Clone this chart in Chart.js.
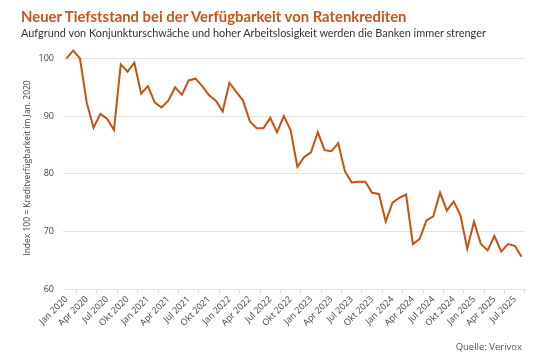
<!DOCTYPE html>
<html>
<head>
<meta charset="utf-8">
<script src="https://cdn.jsdelivr.net/npm/chart.js@4"></script>
<style>
  html, body { margin: 0; padding: 0; background: #fff; }
  #wrap { position: relative; width: 540px; height: 358px; overflow: hidden; }
  #c { position: absolute; left: 0; top: 0; }
  .t { position: absolute; white-space: nowrap; font-family: Lato, "Open Sans", sans-serif; }
  #title { left: 21px; top: 7px; font-size: 14.85px; font-weight: 700; color: #c9541c; }
  #sub { left: 21px; top: 26px; font-size: 10.9px; color: #333; }
  #src { right: 18px; top: 340px; font-size: 9.5px; color: #555; font-family: "Open Sans", sans-serif; }
</style>
</head>
<body>
<div id="wrap">
  <canvas id="c" width="540" height="358"></canvas>
  <div class="t" id="title">Neuer Tiefststand bei der Verfügbarkeit von Ratenkrediten</div>
  <div class="t" id="sub">Aufgrund von Konjunkturschwäche und hoher Arbeitslosigkeit werden die Banken immer strenger</div>
  <div class="t" id="src">Quelle: Verivox</div>
</div>
<script>
const monthNames = ["Jan","Feb","Mär","Apr","Mai","Jun","Jul","Aug","Sep","Okt","Nov","Dez"];
const years = [2020, 2021, 2022, 2023, 2024, 2025];
const categories = [];
years.forEach(y => monthNames.forEach(m => categories.push(m + " " + y)));
categories.length = 68; // Jan 2020 – Aug 2025

const index2020 = [100.0, 101.4, 100.0, 92.3, 88.0, 90.4, 89.5, 87.6, 99.0, 97.7, 99.3, 93.9];
const index2021 = [95.2, 92.4, 91.5, 92.7, 95.0, 93.7, 96.2, 96.5, 95.2, 93.6, 92.7, 90.8];
const index2022 = [95.8, 94.2, 92.7, 89.1, 87.9, 87.9, 89.7, 87.2, 90.0, 87.6, 81.2, 82.9];
const index2023 = [83.7, 87.2, 84.1, 83.9, 85.3, 80.4, 78.5, 78.6, 78.6, 76.7, 76.5, 71.7];
const index2024 = [75.0, 75.8, 76.4, 67.8, 68.7, 71.9, 72.6, 76.7, 73.6, 75.2, 72.8, 67.0];
const index2025 = [71.7, 67.8, 66.7, 69.2, 66.5, 67.8, 67.5, 65.6];
const values = [].concat(index2020, index2021, index2022, index2023, index2024, index2025);

const yTicks = [60, 70, 80, 90, 100];

new Chart(document.getElementById('c'), {
  type: 'line',
  data: {
    labels: categories,
    datasets: [{
      data: values,
      borderColor: '#c5520f',
      borderWidth: 2,
      pointRadius: 0,
      tension: 0,
      fill: false
    }]
  },
  options: {
    responsive: false,
    animation: false,
    layout: { padding: { left: 18, right: 15, top: 47, bottom: 0 } },
    plugins: { legend: { display: false }, tooltip: { enabled: false } },
    scales: {
      x: {
        offset: true,
        border: { display: false },
        grid: { offset: true, drawOnChartArea: false, drawTicks: true, tickLength: 4, color: '#d9d9d9' },
        ticks: {
          autoSkip: false,
          minRotation: 45,
          maxRotation: 45,
          padding: 1,
          color: '#444',
          font: { family: 'Open Sans', size: 9 },
          callback: function(v, i) { return i % 3 === 0 ? categories[i] : null; }
        },
        afterFit: s => { s.height = 69; }
      },
      y: {
        min: 60,
        max: 102,
        border: { display: false },
        grid: { color: '#e3e3e3', drawTicks: false },
        afterBuildTicks: s => { s.ticks = yTicks.map(v => ({ value: v })); },
        ticks: { padding: 9, color: '#444', font: { family: 'Open Sans', size: 9 } },
        title: {
          display: true,
          text: 'Index 100 = Kreditverfügbarkeit im Jan. 2020',
          color: '#444',
          font: { family: 'Open Sans', size: 8.5 },
          padding: { top: 4, bottom: 0 }
        },
        afterFit: s => { s.width = 45; }
      }
    }
  }
});
</script>
</body>
</html>
